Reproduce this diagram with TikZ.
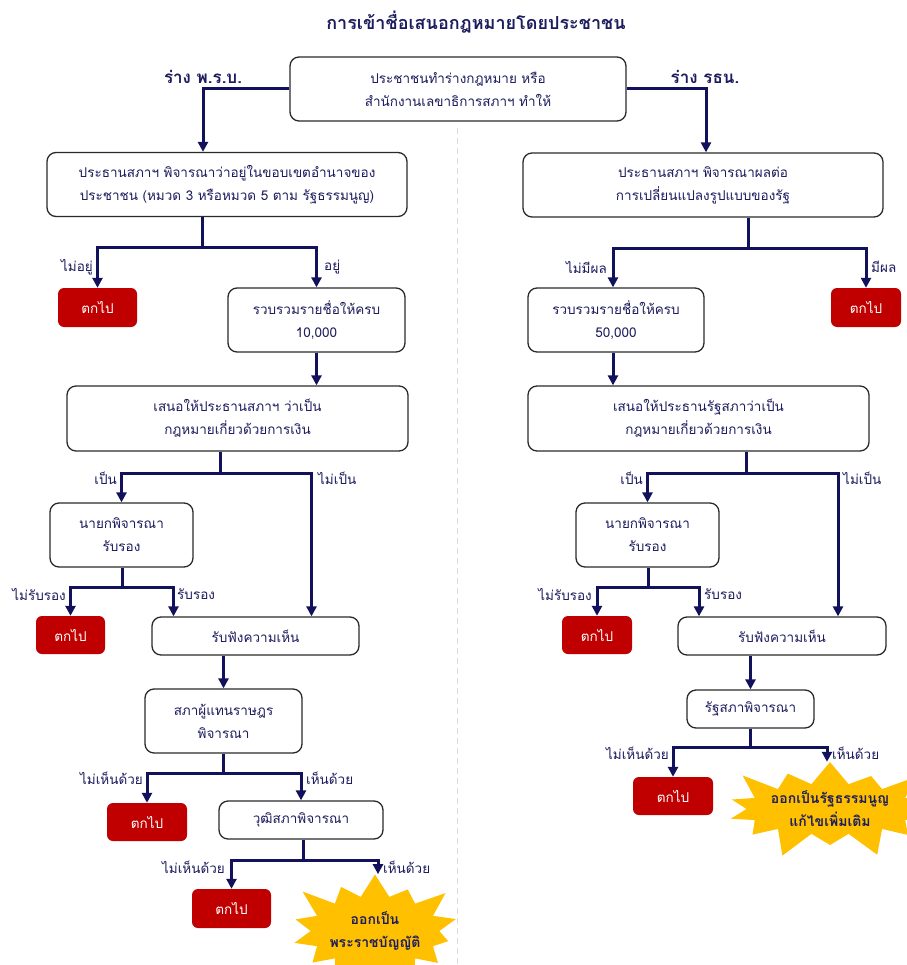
\documentclass[tikz,border=0pt]{standalone}
\usepackage{fontspec}
\newfontfamily\thai[Script=Thai]{Loma}
\usetikzlibrary{arrows.meta,shapes.symbols}
\definecolor{navy}{HTML}{12125C}
\definecolor{txt}{HTML}{1C1C5E}
\definecolor{boxc}{HTML}{2A2A2A}
\definecolor{redc}{HTML}{C00000}
\definecolor{gold}{HTML}{FFC000}
\begin{document}
\begin{tikzpicture}[x=1pt,y=-1pt,
  box/.style={draw=boxc,line width=1.3pt,rounded corners=9pt,fill=white,text=txt,align=center,
    font=\thai\fontsize{13.5}{23}\selectfont,inner sep=0pt},
  fall/.style={fill=redc,rounded corners=6pt,text=white,align=center,
    font=\thai\fontsize{13.5}{23}\selectfont,inner sep=0pt},
  conn/.style={draw=navy,line width=3pt},
  arr/.style={conn,-{Triangle[length=10pt,width=10pt]}},
  lab/.style={text=txt,font=\thai\fontsize{13.5}{16}\selectfont,inner sep=0pt},
  head/.style={text=txt,font=\thai\bfseries\fontsize{17}{20}\selectfont,inner sep=0pt},
  burst/.style={shape=starburst,fill=gold,draw=none,text=txt,align=center,
    font=\thai\bfseries\fontsize{14}{23}\selectfont,starburst points=14,
    starburst point height=30pt,inner sep=0pt}
]
\useasboundingbox[fill=white] (0,0) rectangle (906,965);
\draw[draw=black!14,line width=1pt,dash pattern=on 6pt off 4pt] (457,128) -- (457,965);

% title
\node[head,font=\thai\bfseries\fontsize{18}{20}\selectfont] (title) at (476,22) {การเข้าชื่อเสนอกฎหมายโดยประชาชน};
\node[head] (hL) at (203,77) {ร่าง พ.ร.บ.};
\node[head] (hR) at (705,77) {ร่าง รธน.};

% top
\node[box,minimum width=336pt,minimum height=64pt] (top) at (458,89) {ประชาชนทำร่างกฎหมาย หรือ\\สำนักงานเลขาธิการสภาฯ ทำให้};

% left column
\node[box,minimum width=360pt,minimum height=64pt] (L1) at (227,184.5) {ประธานสภาฯ พิจารณาว่าอยู่ในขอบเขตอำนาจของ\\ประชาชน (หมวด 3 หรือหมวด 5 ตาม รัฐธรรมนูญ)};
\node[fall,minimum width=79pt,minimum height=39pt] (Lf1) at (97.5,307.5) {ตกไป};
\node[box,minimum width=177pt,minimum height=64pt] (Lcol) at (316.5,320) {รวบรวมรายชื่อให้ครบ\\10,000};
\node[box,minimum width=341pt,minimum height=65pt] (Lmon) at (237.5,418.5) {เสนอให้ประธานสภาฯ ว่าเป็น\\กฎหมายเกี่ยวด้วยการเงิน};
\node[box,minimum width=143pt,minimum height=64pt] (Lpm) at (121.5,535) {นายกพิจารณา\\รับรอง};
\node[fall,minimum width=69pt,minimum height=38pt] (Lf2) at (70.5,635) {ตกไป};
\node[box,minimum width=207pt,minimum height=38pt] (Lhear) at (255.5,636) {รับฟังความเห็น};
\node[box,minimum width=157pt,minimum height=64pt] (Lhouse) at (223.5,721) {สภาผู้แทนราษฎร\\พิจารณา};
\node[fall,minimum width=80pt,minimum height=38pt] (Lf3) at (147,822) {ตกไป};
\node[box,minimum width=164pt,minimum height=38pt] (Lsen) at (301,820) {วุฒิสภาพิจารณา};
\node[fall,minimum width=79pt,minimum height=39pt] (Lf4) at (231.5,908.5) {ตกไป};
\node[burst,minimum width=185pt,minimum height=130pt] (Lstar) at (375,931) {ออกเป็น\\พระราชบัญญัติ};

% right column
\node[box,minimum width=360pt,minimum height=64pt] (R1) at (703,185) {ประธานสภาฯ พิจารณาผลต่อ\\การเปลี่ยนแปลงรูปแบบของรัฐ};
\node[box,minimum width=176pt,minimum height=64pt] (Rcol) at (616,320) {รวบรวมรายชื่อให้ครบ\\50,000};
\node[fall,minimum width=70pt,minimum height=39pt] (Rf1) at (866,307.5) {ตกไป};
\node[box,minimum width=341pt,minimum height=65pt] (Rmon) at (698.5,418.5) {เสนอให้ประธานรัฐสภาว่าเป็น\\กฎหมายเกี่ยวด้วยการเงิน};
\node[box,minimum width=143pt,minimum height=64pt] (Rpm) at (647.5,535) {นายกพิจารณา\\รับรอง};
\node[fall,minimum width=70pt,minimum height=38pt] (Rf2) at (597,635) {ตกไป};
\node[box,minimum width=208pt,minimum height=38pt] (Rhear) at (782,636) {รับฟังความเห็น};
\node[box,minimum width=127pt,minimum height=38pt] (Rpar) at (750.5,709) {รัฐสภาพิจารณา};
\node[fall,minimum width=80pt,minimum height=38pt] (Rf3) at (673,796) {ตกไป};
\node[burst,minimum width=170pt,minimum height=108pt] (Rstar) at (830,809) {ออกเป็นรัฐธรรมนูญ\\แก้ไขเพิ่มเติม};

% junction coordinates
\coordinate (jTL) at (203,89);
\coordinate (jTR) at (706,89);
\coordinate (jL1) at (202,248);
\coordinate (jLm) at (220,473);
\coordinate (jLp) at (122,587);
\coordinate (jLh) at (223,773);
\coordinate (jLs) at (303,860);
\coordinate (jR1) at (748,249);
\coordinate (jRm) at (746,473);
\coordinate (jRp) at (648,587);
\coordinate (jRr) at (750,747);

% top connectors
\draw[arr] (top.west |- jTL) -- (jTL) -- (jTL |- L1.north);
\draw[arr] (top.east |- jTR) -- (jTR) -- (jTR |- R1.north);

% left connectors
\draw[conn] (jL1 |- L1.south) -- (jL1);
\draw[arr] (jL1) -| (Lf1.north);
\draw[arr] (jL1) -| (Lcol.north);
\draw[arr] (Lcol.south) -- (Lcol.south |- Lmon.north);
\draw[conn] (jLm |- Lmon.south) -- (jLm);
\draw[arr] (jLm) -| (Lpm.north);
\draw[arr] (jLm) -| ([xshift=56pt]Lhear.north);
\draw[conn] (jLp |- Lpm.south) -- (jLp);
\draw[arr] (jLp) -| (Lf2.north);
\draw[arr] (jLp) -| ([xshift=-82pt]Lhear.north);
\draw[arr] (Lhear.south -| Lhouse.north) -- (Lhouse.north);
\draw[conn] (jLh |- Lhouse.south) -- (jLh);
\draw[arr] (jLh) -| (Lf3.north);
\draw[arr] (jLh) -| (Lsen.north);
\draw[conn] (jLs |- Lsen.south) -- (jLs);
\draw[arr] (jLs) -| (Lf4.north);
\draw[arr] (jLs) -| ([xshift=3pt]Lstar.north);

% right connectors
\draw[conn] (jR1 |- R1.south) -- (jR1);
\draw[arr] (jR1) -| ([xshift=-3pt]Rcol.north);
\draw[arr] (jR1) -| (Rf1.north);
\draw[arr] ([xshift=-3pt]Rcol.south) -- ([xshift=-3pt]Rcol.south |- Rmon.north);
\draw[conn] (jRm |- Rmon.south) -- (jRm);
\draw[arr] (jRm) -| (Rpm.north);
\draw[arr] (jRm) -| ([xshift=56pt]Rhear.north);
\draw[conn] (jRp |- Rpm.south) -- (jRp);
\draw[arr] (jRp) -| (Rf2.north);
\draw[arr] (jRp) -| ([xshift=-83pt]Rhear.north);
\draw[arr] (Rhear.south -| Rpar.north) -- (Rpar.north);
\draw[conn] (jRr |- Rpar.south) -- (jRr);
\draw[arr] (jRr) -| (Rf3.north);
\draw[arr] (jRr) -| ([xshift=-3pt]Rstar.north);

% labels
\node[lab,anchor=east] (l1) at (93,267) {ไม่อยู่};
\node[lab,anchor=west] (l2) at (324,267) {อยู่};
\node[lab,anchor=east] (l3) at (117,478) {เป็น};
\node[lab,anchor=west] (l4) at (318,478) {ไม่เป็น};
\node[lab,anchor=east] (l5) at (66,594) {ไม่รับรอง};
\node[lab,anchor=west] (l6) at (177,594) {รับรอง};
\node[lab,anchor=east] (l7) at (143,778) {ไม่เห็นด้วย};
\node[lab,anchor=west] (l8) at (306,778) {เห็นด้วย};
\node[lab,anchor=east] (l9) at (225,867) {ไม่เห็นด้วย};
\node[lab,anchor=west] (l10) at (383,867) {เห็นด้วย};
\node[lab,anchor=east] (r1) at (607,267) {ไม่มีผล};
\node[lab,anchor=west] (r2) at (871,267) {มีผล};
\node[lab,anchor=east] (r3) at (643,478) {เป็น};
\node[lab,anchor=west] (r4) at (843,478) {ไม่เป็น};
\node[lab,anchor=east] (r5) at (592,594) {ไม่รับรอง};
\node[lab,anchor=west] (r6) at (704,594) {รับรอง};
\node[lab,anchor=east] (r7) at (669,753) {ไม่เห็นด้วย};
\node[lab,anchor=west] (r8) at (832,753) {เห็นด้วย};
\end{tikzpicture}
\end{document}
